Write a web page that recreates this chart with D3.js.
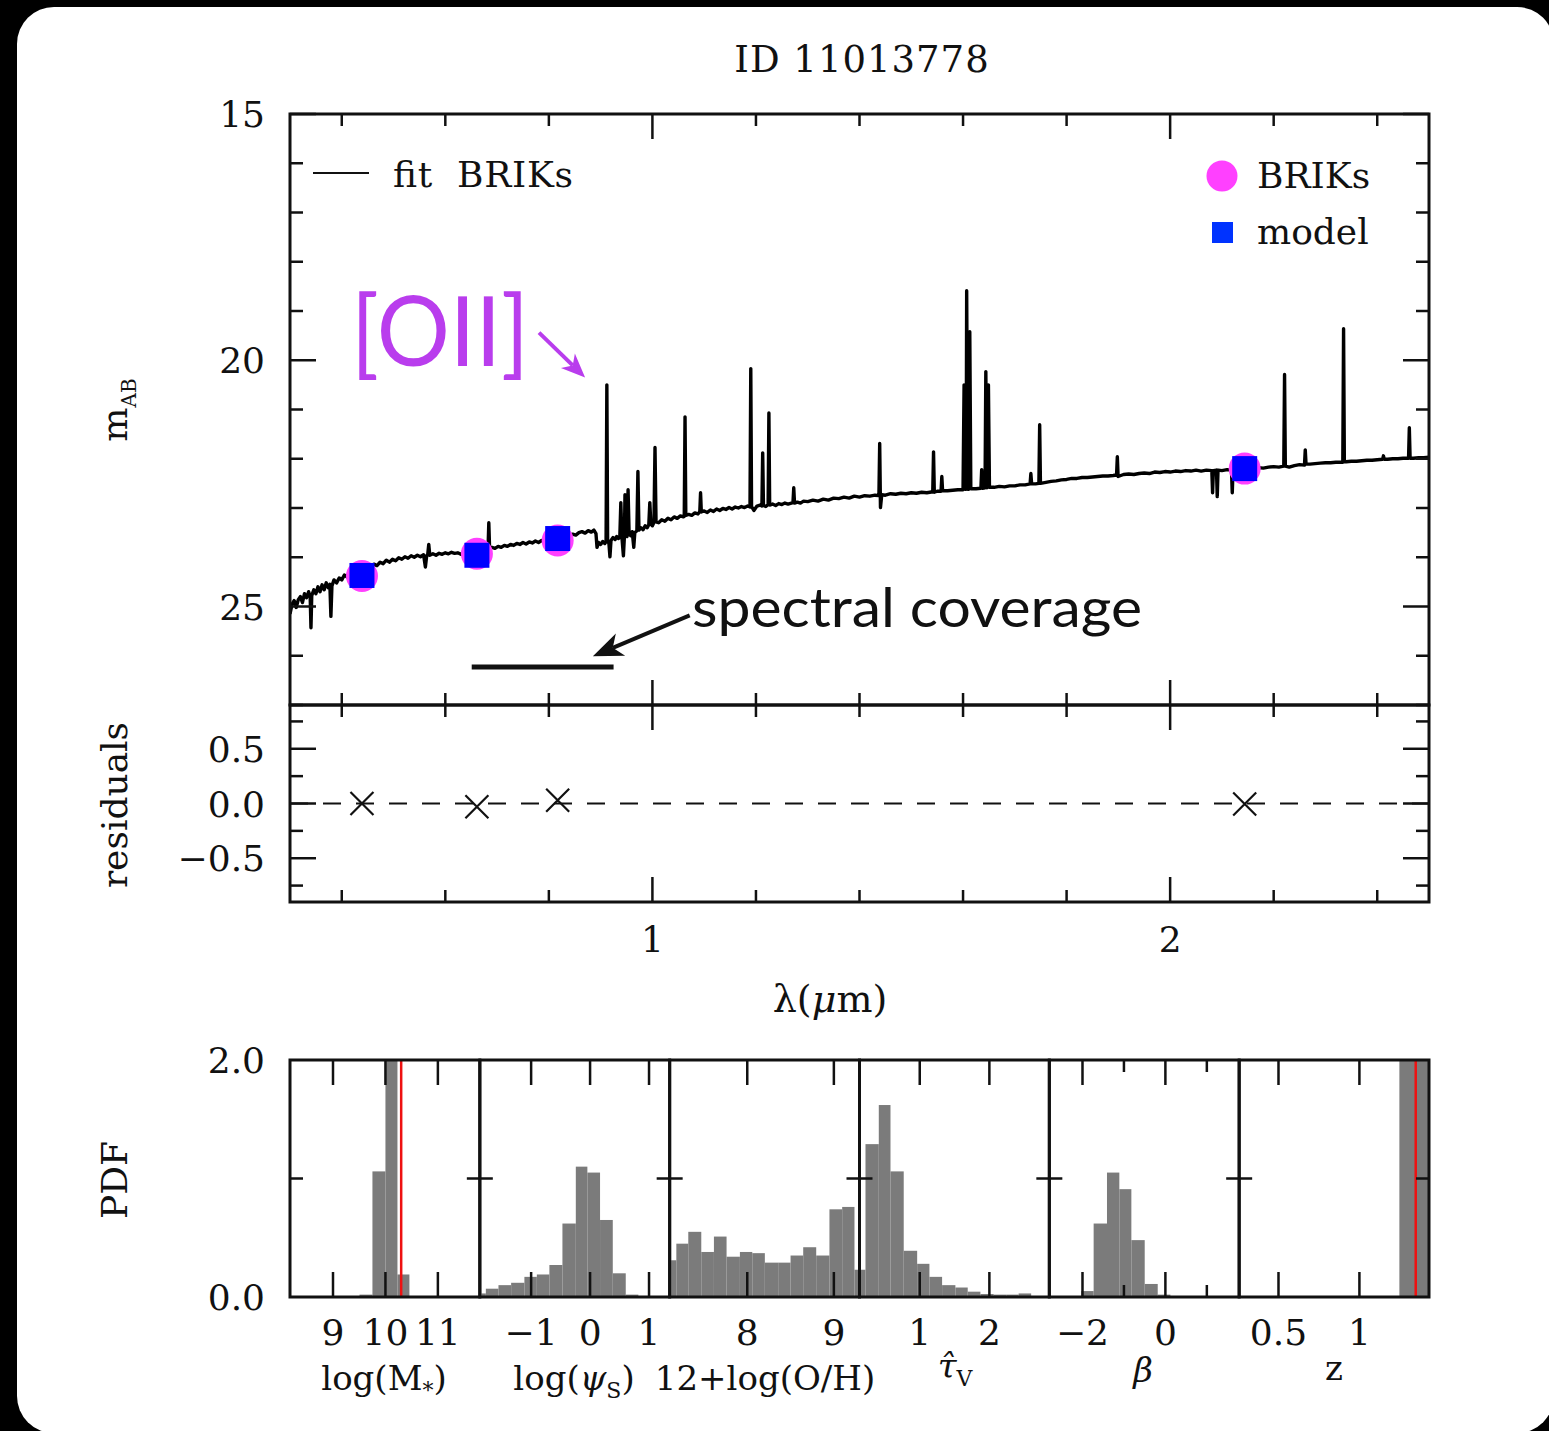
<!DOCTYPE html>
<html><head><meta charset="utf-8">
<script src="https://cdn.jsdelivr.net/npm/d3@7"></script>
<style>
html,body{margin:0;padding:0;background:#000;}
svg{display:block;}
text{font-family:"DejaVu Serif",serif;fill:#111;}
</style></head><body>
<svg id="c" width="1549" height="1431"></svg>
<script>
// ---------------- DATA ----------------
const titleText = "ID 11013778";
// spectrum: [wavelength (micron), m_AB]
const spectrum = [[0.300,25.15],[0.304,24.95],[0.308,24.88],[0.312,25.02],[0.316,24.86],[0.320,24.80],[0.324,24.92],[0.328,24.74],[0.332,24.82],[0.336,24.70],[0.339,24.80],[0.3405,25.43],[0.342,24.78],[0.346,24.66],[0.350,24.74],[0.354,24.60],[0.358,24.70],[0.362,24.56],[0.366,24.66],[0.370,24.52],[0.374,24.62],[0.377,24.55],[0.379,25.20],[0.381,24.58],[0.385,24.46],[0.390,24.52],[0.395,24.42],[0.400,24.46],[0.405,24.36],[0.410,24.40],[0.415,24.30],[0.420,24.36],[0.426,24.28],[0.432,24.33],[0.438,24.25],[0.444,24.28],[0.450,24.18],[0.456,24.22],[0.462,24.14],[0.468,24.17],[0.474,24.10],[0.480,24.13],[0.486,24.06],[0.492,24.10],[0.498,24.04],[0.504,24.07],[0.510,24.01],[0.516,24.04],[0.522,23.99],[0.528,24.02],[0.534,23.97],[0.540,24.00],[0.546,23.96],[0.552,23.99],[0.558,23.95],[0.5615,24.20],[0.564,23.97],[0.566,23.95],[0.568,23.74],[0.570,23.96],[0.576,23.93],[0.582,23.96],[0.588,23.92],[0.594,23.94],[0.600,23.91],[0.606,23.93],[0.612,23.90],[0.618,23.92],[0.624,23.91],[0.630,23.94],[0.636,23.92],[0.642,23.95],[0.648,23.93],[0.654,23.94],[0.660,23.90],[0.666,23.88],[0.672,23.86],[0.678,23.84],[0.6825,23.84],[0.684,23.30],[0.6855,23.82],[0.690,23.80],[0.696,23.82],[0.702,23.78],[0.708,23.80],[0.714,23.76],[0.720,23.78],[0.726,23.74],[0.732,23.76],[0.738,23.72],[0.744,23.74],[0.750,23.70],[0.756,23.73],[0.762,23.69],[0.768,23.71],[0.774,23.67],[0.780,23.70],[0.786,23.66],[0.792,23.68],[0.798,23.64],[0.804,23.67],[0.810,23.63],[0.816,23.66],[0.822,23.62],[0.828,23.63],[0.834,23.58],[0.840,23.56],[0.846,23.53],[0.852,23.55],[0.858,23.50],[0.864,23.48],[0.870,23.51],[0.876,23.46],[0.882,23.49],[0.887,23.45],[0.891,23.52],[0.893,23.80],[0.896,23.70],[0.900,23.74],[0.904,23.68],[0.908,23.72],[0.9105,23.68],[0.912,20.50],[0.9135,23.66],[0.916,23.72],[0.918,23.99],[0.920,23.66],[0.924,23.60],[0.928,23.64],[0.931,23.58],[0.934,23.62],[0.937,23.60],[0.939,22.89],[0.941,23.58],[0.944,23.97],[0.946,23.56],[0.947,22.73],[0.948,23.55],[0.951,23.58],[0.953,22.63],[0.955,23.52],[0.958,23.56],[0.961,23.48],[0.964,23.80],[0.966,23.50],[0.970,23.46],[0.972,22.26],[0.974,23.45],[0.978,23.40],[0.982,23.44],[0.986,23.36],[0.990,23.40],[0.993,23.34],[0.995,22.89],[0.997,23.33],[1.000,23.36],[1.003,23.29],[1.005,21.77],[1.007,23.28],[1.012,23.30],[1.018,23.24],[1.024,23.27],[1.030,23.21],[1.036,23.24],[1.042,23.18],[1.048,23.21],[1.054,23.16],[1.060,23.18],[1.0615,23.17],[1.063,21.15],[1.0645,23.15],[1.070,23.13],[1.076,23.15],[1.082,23.10],[1.088,23.12],[1.0915,23.08],[1.093,22.69],[1.0945,23.08],[1.100,23.06],[1.106,23.09],[1.112,23.04],[1.118,23.07],[1.124,23.02],[1.130,23.05],[1.136,23.01],[1.142,23.03],[1.148,22.99],[1.154,23.02],[1.160,22.98],[1.166,23.00],[1.172,22.97],[1.178,22.99],[1.184,22.96],[1.1885,22.98],[1.190,20.17],[1.1915,22.97],[1.196,23.05],[1.202,22.96],[1.208,22.94],[1.2115,22.96],[1.213,21.88],[1.2145,22.95],[1.219,22.97],[1.2235,22.93],[1.225,21.07],[1.2265,22.94],[1.232,22.92],[1.238,22.95],[1.244,22.91],[1.250,22.93],[1.256,22.90],[1.262,22.92],[1.2715,22.89],[1.273,22.59],[1.2745,22.90],[1.280,22.88],[1.286,22.90],[1.292,22.86],[1.300,22.87],[1.310,22.84],[1.320,22.86],[1.330,22.82],[1.340,22.84],[1.350,22.80],[1.360,22.81],[1.370,22.78],[1.380,22.80],[1.390,22.76],[1.400,22.78],[1.410,22.75],[1.420,22.76],[1.430,22.74],[1.4375,22.75],[1.439,21.69],[1.4405,22.99],[1.443,22.73],[1.450,22.74],[1.460,22.71],[1.470,22.72],[1.480,22.70],[1.490,22.71],[1.500,22.69],[1.510,22.70],[1.520,22.68],[1.530,22.69],[1.5415,22.67],[1.543,21.86],[1.5445,22.68],[1.550,22.66],[1.5575,22.66],[1.559,22.36],[1.5605,22.65],[1.570,22.65],[1.580,22.64],[1.590,22.63],[1.600,22.63],[1.602,20.50],[1.604,22.62],[1.606,22.62],[1.607,18.59],[1.609,22.62],[1.611,22.62],[1.613,19.42],[1.615,22.61],[1.625,22.61],[1.6345,22.60],[1.636,22.22],[1.6375,22.60],[1.6425,22.59],[1.644,20.23],[1.646,22.59],[1.648,22.58],[1.649,20.50],[1.651,22.58],[1.660,22.58],[1.670,22.56],[1.680,22.57],[1.690,22.55],[1.700,22.55],[1.710,22.53],[1.720,22.53],[1.7295,22.51],[1.731,22.30],[1.7325,22.51],[1.740,22.51],[1.7465,22.50],[1.748,21.31],[1.7495,22.50],[1.760,22.48],[1.770,22.46],[1.780,22.45],[1.790,22.43],[1.800,22.42],[1.810,22.40],[1.820,22.40],[1.830,22.38],[1.840,22.38],[1.850,22.37],[1.860,22.36],[1.870,22.35],[1.880,22.35],[1.890,22.34],[1.8965,22.33],[1.898,21.96],[1.8995,22.36],[1.910,22.32],[1.920,22.31],[1.930,22.32],[1.940,22.30],[1.950,22.29],[1.960,22.30],[1.970,22.27],[1.980,22.28],[1.990,22.26],[2.000,22.27],[2.010,22.25],[2.020,22.26],[2.030,22.24],[2.040,22.25],[2.050,22.23],[2.060,22.25],[2.070,22.23],[2.0805,22.24],[2.082,22.69],[2.0835,22.24],[2.0895,22.23],[2.091,22.77],[2.0925,22.23],[2.100,22.24],[2.110,22.22],[2.1185,22.23],[2.120,22.69],[2.1215,22.22],[2.130,22.21],[2.140,22.20],[2.150,22.20],[2.160,22.19],[2.170,22.18],[2.180,22.19],[2.190,22.17],[2.200,22.16],[2.210,22.17],[2.2195,22.15],[2.221,20.29],[2.2225,22.15],[2.230,22.17],[2.240,22.14],[2.250,22.12],[2.2595,22.13],[2.261,21.82],[2.2625,22.11],[2.270,22.11],[2.280,22.10],[2.290,22.09],[2.300,22.08],[2.310,22.08],[2.320,22.07],[2.3335,22.07],[2.335,19.36],[2.3365,22.06],[2.340,22.06],[2.350,22.05],[2.360,22.05],[2.370,22.04],[2.380,22.03],[2.390,22.03],[2.400,22.02],[2.4105,22.01],[2.412,21.94],[2.4135,22.01],[2.420,22.01],[2.430,22.00],[2.440,22.00],[2.450,21.99],[2.4605,21.99],[2.462,21.37],[2.4635,21.99],[2.470,21.99],[2.480,21.98],[2.490,21.98],[2.500,21.97]];

// photometry (B, R, I, Ks)
const bandLam   = [0.439, 0.661, 0.817, 2.144];
const bandObs   = [24.38, 23.93, 23.66, 22.20];
const bandModel = [24.37, 23.96, 23.62, 22.20];
const residuals = [0.00, -0.03, 0.03, -0.005];

// spectral coverage (micron) and its magnitude level
const coverage = [0.651, 0.925];
const coverageMag = 26.23;

// axis ticks
const xTicks = [0.4,0.6,0.8,1.0,1.2,1.4,1.6,1.8,2.0,2.2,2.4];
const xTickLabels = ["","","","1","","","","","2","",""];
const magTicks = [15,16,17,18,19,20,21,22,23,24,25,26,27];
const magTickLabels = ["15","","","","","20","","","","","25","",""];
const resTicks = [-0.75,-0.5,-0.25,0,0.25,0.5,0.75];
const resTickLabels = ["","\u22120.5","","0.0","","0.5",""];

// PDF panels
const massEdges = [9.505, 9.752, 10.0, 10.229, 10.457];
const massPdf   = [0.02, 1.06, 2.6, 0.19];
const massTicks = [9, 10, 11];
const massTickLabels = ["9", "10", "11"];

const sfrEdges = [-1.983,-1.768,-1.554,-1.339,-1.114,-0.903,-0.69,-0.469,-0.242,-0.046,0.169,0.385,0.605,0.819];
const sfrPdf   = [0.03,0.07,0.10,0.12,0.17,0.19,0.27,0.62,1.10,1.05,0.65,0.20,0.02];
const sfrTicks = [-1, 0, 1];
const sfrTickLabels = ["\u22121", "0", "1"];

const ohEdges = [7.035,7.181,7.319,7.469,7.615,7.761,7.915,8.058,8.203,8.357,8.5,8.646,8.796,8.949,9.096,9.238,9.385];
const ohPdf   = [0.31,0.45,0.55,0.38,0.51,0.34,0.38,0.37,0.29,0.29,0.35,0.42,0.35,0.74,0.76,0.23];
const ohTicks = [8, 9];
const ohTickLabels = ["8", "9"];

const tauEdges = [0.036,0.221,0.412,0.58,0.77,0.963,1.139,1.321,1.512,1.689,1.871,2.062,2.244,2.42,2.6];
const tauPdf   = [0.23,1.29,1.62,1.06,0.39,0.28,0.17,0.10,0.08,0.045,0.025,0.02,0.02,0.03];
const tauTicks = [1, 2];
const tauTickLabels = ["1", "2"];

const betaEdges = [-2.03,-1.731,-1.409,-1.111,-0.821,-0.499,-0.185,0.121];
const betaPdf   = [0.05,0.62,1.05,0.91,0.48,0.11,0.02];
const betaTicks = [-2, -1, 0, 1];
const betaMinor = [-1, 1];
const betaTickLabels = ["\u22122", "", "0", ""];

const zEdges = [1.247, 1.55];
const zPdf   = [2.6];
const zTicks = [0.5, 1];
const zTickLabels = ["0.5", "1"];

const massTrue = 10.30;
const zTrue = 1.348;

// ---------------- DRAW ----------------
const svg = d3.select("#c");
svg.append("rect").attr("x",17).attr("y",7).attr("width",1537).attr("height",1426)
  .attr("rx",37).attr("fill","#fff");

const INK = "#111";
const L = 290, R = 1429;
const x = d3.scaleLinear().domain([0.3, 2.5]).range([L, R]);
const yTop = d3.scaleLinear().domain([15, 27]).range([114, 705]);
const yRes = d3.scaleLinear().domain([0.9, -0.9]).range([705, 902]);

// title
svg.append("text").attr("x", 862).attr("y", 72).attr("text-anchor","middle")
  .attr("font-size", 37).attr("letter-spacing", 1).text(titleText);

// ---- spectrum
const gTop = svg.append("g");
svg.append("clipPath").attr("id","clipTop").append("rect")
  .attr("x",L).attr("y",114).attr("width",R-L).attr("height",591);
gTop.append("path").datum(spectrum)
  .attr("clip-path","url(#clipTop)")
  .attr("fill","none").attr("stroke","#000").attr("stroke-width",3.4)
  .attr("stroke-linejoin","round")
  .attr("d", d3.line().x(d=>x(d[0])).y(d=>yTop(d[1])));

// photometry points
bandLam.forEach((l,i)=>{
  gTop.append("circle").attr("cx",x(l)).attr("cy",yTop(bandObs[i])).attr("r",16)
    .attr("fill","#ff40ff");
});
bandLam.forEach((l,i)=>{
  gTop.append("rect").attr("x",x(l)-12.5).attr("y",yTop(bandModel[i])-12.5)
    .attr("width",25).attr("height",25).attr("fill","#0000ff");
});

// coverage bar
gTop.append("line").attr("x1",x(coverage[0])).attr("x2",x(coverage[1]))
  .attr("y1",yTop(coverageMag)).attr("y2",yTop(coverageMag))
  .attr("stroke",INK).attr("stroke-width",5);

function arrow(g, x1,y1,x2,y2,color,sw,len,hw){
  const dx=x2-x1, dy=y2-y1, d=Math.hypot(dx,dy), ux=dx/d, uy=dy/d, px=-uy, py=ux;
  const bx=x2-ux*len, by=y2-uy*len, nx=x2-ux*len*0.72, ny=y2-uy*len*0.72;
  g.append("line").attr("x1",x1).attr("y1",y1).attr("x2",nx).attr("y2",ny)
    .attr("stroke",color).attr("stroke-width",sw);
  g.append("path").attr("d",`M${x2},${y2}L${bx+px*hw},${by+py*hw}L${nx},${ny}L${bx-px*hw},${by-py*hw}Z`)
    .attr("fill",color);
}
// spectral coverage annotation
arrow(gTop, x(1.072), yTop(25.18), x(0.885), yTop(26.01), INK, 4, 30, 12);
gTop.append("text").attr("x", 692).attr("y", 627)
  .style("font-family","Lato, 'Open Sans', sans-serif").attr("font-size", 55)
  .attr("textLength", 450).attr("lengthAdjust","spacingAndGlyphs")
  .attr("fill", INK).text("spectral coverage");

// [OII] annotation
const PURPLE = "#b93ded";
gTop.append("text").attr("x", 351).attr("y", 366)
  .style("font-family","Lato, 'Open Sans', sans-serif").style("fill",PURPLE)
  .attr("font-size", 96).attr("textLength", 178).attr("lengthAdjust","spacingAndGlyphs")
  .text("[OII]");
arrow(gTop, x(0.781), yTop(19.44), x(0.870), yTop(20.35), PURPLE, 4, 24, 10);

// legends
gTop.append("line").attr("x1",313).attr("x2",369).attr("y1",173).attr("y2",173)
  .attr("stroke",INK).attr("stroke-width",2);
gTop.append("text").attr("x",393).attr("y",187).attr("font-size",36)
  .attr("textLength",180).text("fit\u00a0\u00a0BRIKs");
gTop.append("circle").attr("cx",1222).attr("cy",176).attr("r",15.5).attr("fill","#ff40ff");
gTop.append("text").attr("x",1257).attr("y",188).attr("font-size",36).text("BRIKs");
gTop.append("rect").attr("x",1212).attr("y",222).attr("width",21).attr("height",21).attr("fill","#0033ff");
gTop.append("text").attr("x",1257).attr("y",244).attr("font-size",36).text("model");

// ---- residuals
const gRes = svg.append("g");
gRes.append("line").attr("x1",L).attr("x2",R).attr("y1",yRes(0)).attr("y2",yRes(0))
  .attr("stroke",INK).attr("stroke-width",2).attr("stroke-dasharray","18,15");
bandLam.forEach((l,i)=>{
  const cx=x(l), cy=yRes(residuals[i]), s=11.5;
  gRes.append("path").attr("d",`M${cx-s},${cy-s}L${cx+s},${cy+s}M${cx-s},${cy+s}L${cx+s},${cy-s}`)
    .attr("stroke",INK).attr("stroke-width",2.2);
});

// ---- frames & ticks (top + residual)
function tick(g,x1,y1,x2,y2,w){ g.append("line").attr("x1",x1).attr("y1",y1).attr("x2",x2).attr("y2",y2)
  .attr("stroke",INK).attr("stroke-width",w||2.5); }
const gAx = svg.append("g");
[[114,705],[705,902]].forEach(([t,b])=>{
  xTicks.forEach((v,i)=>{
    const len = (v===1.0||v===2.0)?25:12;
    tick(gAx, x(v), t, x(v), t+len);
    tick(gAx, x(v), b, x(v), b-len);
  });
});
magTicks.forEach(v=>{
  const len = (v%5===0)?26:13;
  tick(gAx, L, yTop(v), L+len, yTop(v));
  tick(gAx, R, yTop(v), R-len, yTop(v));
});
resTicks.forEach(v=>{
  const len = (Math.abs(v*4)%2===0)?26:13;
  tick(gAx, L, yRes(v), L+len, yRes(v));
  tick(gAx, R, yRes(v), R-len, yRes(v));
});
gAx.append("rect").attr("x",L).attr("y",114).attr("width",R-L).attr("height",591)
  .attr("fill","none").attr("stroke",INK).attr("stroke-width",3);
gAx.append("rect").attr("x",L).attr("y",705).attr("width",R-L).attr("height",197)
  .attr("fill","none").attr("stroke",INK).attr("stroke-width",3);

// tick labels
magTicks.forEach((v,i)=>{ if(magTickLabels[i]) gAx.append("text").attr("x",265).attr("y",yTop(v)+13)
  .attr("text-anchor","end").attr("font-size",36).text(magTickLabels[i]); });
resTicks.forEach((v,i)=>{ if(resTickLabels[i]) gAx.append("text").attr("x",265).attr("y",yRes(v)+13)
  .attr("text-anchor","end").attr("font-size",36).text(resTickLabels[i]); });
xTicks.forEach((v,i)=>{ if(xTickLabels[i]) gAx.append("text").attr("x",x(v)).attr("y",952)
  .attr("text-anchor","middle").attr("font-size",36).text(xTickLabels[i]); });

// axis titles
const mab = svg.append("text").attr("transform","translate(127,410) rotate(-90)")
  .attr("text-anchor","middle").attr("font-size",36);
mab.append("tspan").text("m");
mab.append("tspan").attr("font-size",20).attr("dy",9).text("AB");
svg.append("text").attr("transform","translate(127,805) rotate(-90)")
  .attr("text-anchor","middle").attr("font-size",36).text("residuals");
svg.append("text").attr("transform","translate(127,1180) rotate(-90)")
  .attr("text-anchor","middle").attr("font-size",36).text("PDF");
const lam = svg.append("text").attr("x",830).attr("y",1012).attr("text-anchor","middle")
  .attr("font-size",38);
lam.append("tspan").text("\u03bb(");
lam.append("tspan").attr("font-style","italic").text("\u03bc");
lam.append("tspan").text("m)");

// ---- PDF panels
const yP = d3.scaleLinear().domain([0,2]).range([1297,1060]);
const pw = (R-L)/6;
const panels = [
  {dom:[8.18,11.8], edges:massEdges, pdf:massPdf, ticks:massTicks, minor:[], labels:massTickLabels, red:massTrue},
  {dom:[-1.87,1.35], edges:sfrEdges, pdf:sfrPdf, ticks:sfrTicks, minor:[], labels:sfrTickLabels},
  {dom:[7.104,9.296], edges:ohEdges, pdf:ohPdf, ticks:ohTicks, minor:[], labels:ohTickLabels},
  {dom:[0.135,2.861], edges:tauEdges, pdf:tauPdf, ticks:tauTicks, minor:[], labels:tauTickLabels},
  {dom:[-2.8,1.78], edges:betaEdges, pdf:betaPdf, ticks:betaTicks, minor:betaMinor, labels:betaTickLabels},
  {dom:[0.257,1.43], edges:zEdges, pdf:zPdf, ticks:zTicks, minor:[], labels:zTickLabels, red:zTrue}
];
const gP = svg.append("g");
panels.forEach((p,k)=>{
  const x0 = L + k*pw, x1 = x0 + pw;
  const sx = d3.scaleLinear().domain(p.dom).range([x0,x1]);
  const cid = "clipP"+k;
  svg.append("clipPath").attr("id",cid).append("rect")
    .attr("x",x0).attr("y",1060).attr("width",pw).attr("height",237);
  const g = gP.append("g").attr("clip-path",`url(#${cid})`);
  p.pdf.forEach((v,i)=>{
    const a = sx(p.edges[i]), b = sx(p.edges[i+1]);
    g.append("rect").attr("x",a).attr("width",b-a).attr("y",yP(Math.min(v,2.2)))
      .attr("height",yP(0)-yP(Math.min(v,2.2))).attr("fill","#7b7b7b");
  });
  if(p.red!==undefined){
    g.append("line").attr("x1",sx(p.red)).attr("x2",sx(p.red)).attr("y1",1060).attr("y2",1297)
      .attr("stroke","#ee1111").attr("stroke-width",2.5);
  }
  p.ticks.forEach((v,i)=>{
    const len = p.minor.includes(v)?12:25;
    tick(gP, sx(v), 1060, sx(v), 1060+len);
    tick(gP, sx(v), 1297, sx(v), 1297-len);
    if(p.labels[i]) gP.append("text").attr("x",sx(v)).attr("y",1345).attr("text-anchor","middle")
      .attr("font-size",36).text(p.labels[i]);
  });
  tick(gP, x0, yP(1), x0+13, yP(1));
  tick(gP, x1, yP(1), x1-13, yP(1));
  gP.append("rect").attr("x",x0).attr("y",1060).attr("width",pw).attr("height",237)
    .attr("fill","none").attr("stroke",INK).attr("stroke-width",3);
});
// PDF y labels
gP.append("text").attr("x",265).attr("y",1073).attr("text-anchor","end").attr("font-size",36).text("2.0");
gP.append("text").attr("x",265).attr("y",1310).attr("text-anchor","end").attr("font-size",36).text("0.0");

// PDF parameter names
function label(cx, parts, baseline){
  const t = gP.append("text").attr("x",cx).attr("y",baseline).attr("text-anchor","middle").attr("font-size",34);
  parts.forEach(p=>{
    const s = t.append("tspan").text(p.t);
    if(p.sub) s.attr("font-size",22).attr("dy",8);
    if(p.up) s.attr("dy",-8);
    if(p.it) s.attr("font-style","italic");
  });
}
label(384, [{t:"log(M"},{t:"*",sub:true},{t:")",up:true}], 1390);
label(574, [{t:"log("},{t:"\u03c8",it:true},{t:"S",sub:true},{t:")",up:true}], 1390);
label(765, [{t:"12+log(O/H)"}], 1390);
label(955, [{t:"\u03c4\u0302",it:true},{t:"V",sub:true}], 1378);
label(1143, [{t:"\u03b2",it:true}], 1382);
label(1334, [{t:"z"}], 1380);
</script>
</body></html>
